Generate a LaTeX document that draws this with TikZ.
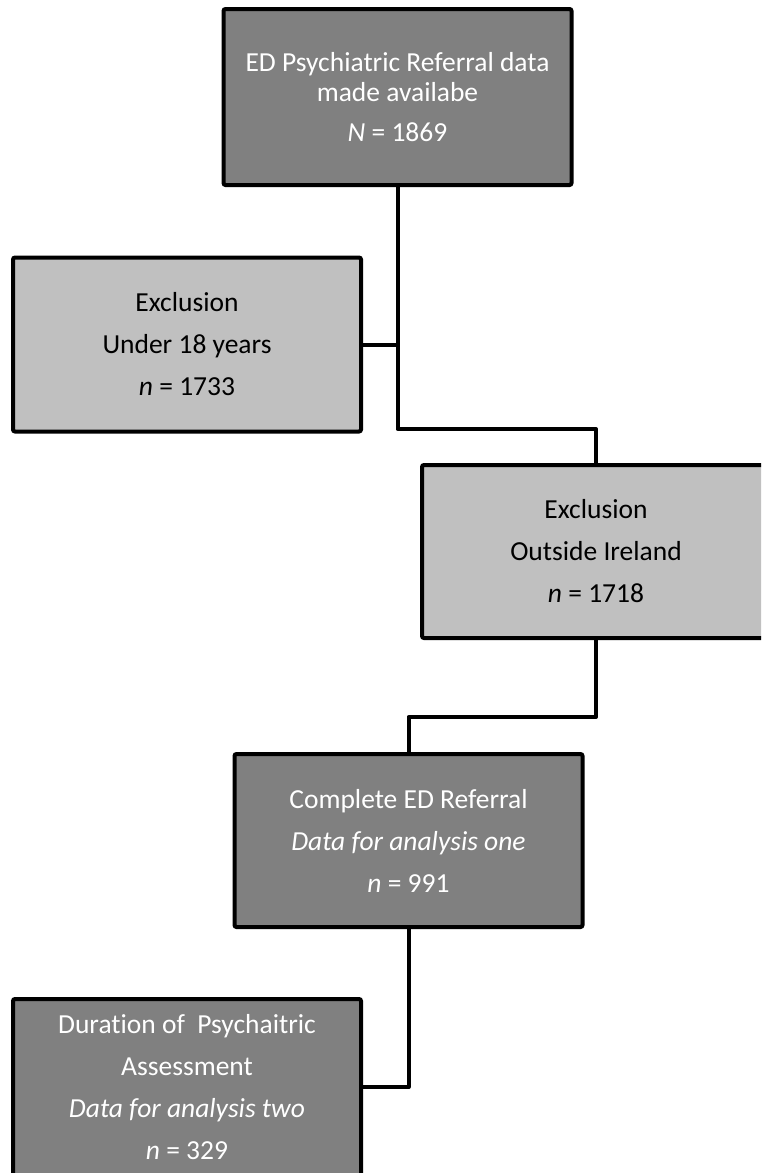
\documentclass[tikz,border=0pt]{standalone}
\usepackage{fontspec}
\setmainfont{Carlito}[Ligatures=NoCommon]
\definecolor{darkbox}{HTML}{808080}
\definecolor{lightbox}{HTML}{C0C0C0}
\tikzset{
  flowbox/.style={rectangle, rounded corners=2pt, draw=black, line width=4pt,
    minimum width=348pt, minimum height=174pt, inner sep=0pt, align=center,
    font=\fontsize{27.5}{42}\selectfont},
  darkflow/.style={flowbox, fill=darkbox, text=white},
  lightflow/.style={flowbox, fill=lightbox, text=black},
  link/.style={line width=4pt, draw=black, line join=round}
}
\begin{document}
\begin{tikzpicture}[x=1pt,y=-1pt]
\clip (0,0) rectangle (761,1173);
\fill[white] (0,0) rectangle (761,1173);
\node[darkflow, minimum height=176pt, font=\fontsize{27.5}{30}\selectfont] (b1) at (397.5,97) {ED Psychiatric Referral data\\made availabe\\[10pt]\textit{N} = 1869};
\node[lightflow] (b2) at (187,344.5) {Exclusion\\Under 18 years\\\textit{n} = 1733};
\node[lightflow, minimum height=173pt] (b3) at (596,551.5) {Exclusion\\Outside Ireland\\\textit{n} = 1718};
\node[darkflow, minimum height=173pt] (b4) at (408.5,840.5) {Complete ED Referral\\\textit{Data for analysis one}\\\textit{n} = 991};
\node[darkflow, minimum height=177pt] (b5) at (187,1087.5) {Duration of~ Psychaitric\\Assessment\\\textit{Data for analysis two}\\\textit{n} = 329};
\coordinate (j1) at (399,429);
\coordinate (j2) at (596,717);
\coordinate (j3) at (408,1087);
\draw[link] (b1.south) -- (b1.south |- j1) -- (b3.north |- j1) -- (b3.north);
\draw[link] (b2.east) -- (b2.east -| b1.south);
\draw[link] (b3.south) -- (b3.south |- j2) -- (b4.north |- j2) -- (b4.north);
\draw[link] (b4.south) -- (b4.south |- j3) -- (j3 -| b5.east);
\end{tikzpicture}
\end{document}
